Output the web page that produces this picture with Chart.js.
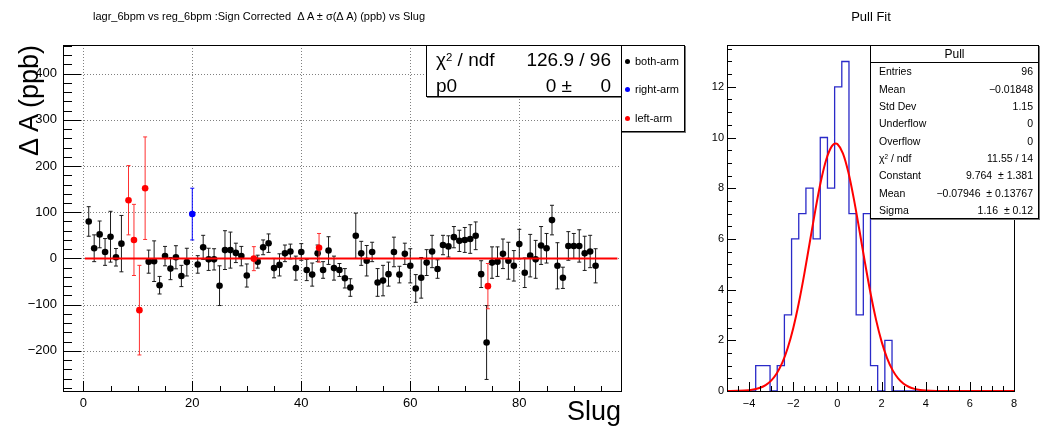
<!DOCTYPE html>
<html><head><meta charset="utf-8">
<script src="https://cdn.jsdelivr.net/npm/chart.js@4.4.1/dist/chart.umd.min.js"></script>
<style>
html,body{margin:0;padding:0;background:#fff;}
#wrap{position:relative;width:1041px;height:431px;overflow:hidden;font-family:"Liberation Sans",Arial,Helvetica,sans-serif;color:#000;}
canvas{position:absolute;top:0;}
.t{position:absolute;white-space:nowrap;line-height:1;}
.box{position:absolute;background:#fff;border:1px solid #000;box-sizing:border-box;box-shadow:1px 1px 0 #777;}
.dot{position:absolute;width:5px;height:5px;border-radius:50%;}
.sup{font-size:0.6em;position:relative;top:-0.45em;}
</style></head>
<body><div id="wrap">
<canvas id="c1" width="700" height="431" style="left:0"></canvas>
<canvas id="c2" width="341" height="431" style="left:700px"></canvas>

<div class="t" style="left:93px;top:11px;font-size:11px">lagr_6bpm vs reg_6bpm :Sign Corrected&nbsp; Δ A ± σ(Δ A) (ppb) vs Slug</div>
<div class="t" style="left:821px;width:100px;text-align:center;top:10px;font-size:13px">Pull Fit</div>
<div class="t" style="left:16px;top:245px;width:200px;text-align:right;font-size:27px;transform-origin:0 0;transform:rotate(-90deg)">Δ A (ppb)</div>
<div class="t" style="right:420px;top:398px;font-size:27px">Slug</div>

<div class="box" style="left:426px;top:45px;width:196px;height:52px">
  <div class="t" style="left:9px;top:4px;font-size:19px">χ<span class="sup">2</span> / ndf</div>
  <div class="t" style="right:10px;top:4px;font-size:19px">126.9 / 96</div>
  <div class="t" style="left:9px;top:30px;font-size:19px">p0</div>
  <div class="t" style="right:49px;top:30px;font-size:19px">0 ±</div>
  <div class="t" style="right:10px;top:30px;font-size:19px">0</div>
</div>

<div class="box" style="left:621px;top:45px;width:64px;height:87px">
  <div class="dot" style="left:2.5px;top:12.5px;background:#000"></div>
  <div class="t" style="left:13px;top:10px;font-size:11px">both-arm</div>
  <div class="dot" style="left:2.5px;top:40.5px;background:#0000ff"></div>
  <div class="t" style="left:13px;top:38px;font-size:11px">right-arm</div>
  <div class="dot" style="left:2.5px;top:69.5px;background:#ff0000"></div>
  <div class="t" style="left:13px;top:67px;font-size:11px">left-arm</div>
</div>

<div class="box" style="left:870px;top:45px;width:169px;height:174px;font-size:10.5px">
  <div class="t" style="left:0;right:0;text-align:center;top:2px;font-size:12px">Pull</div>
  <div style="position:absolute;left:0;right:0;top:16px;border-top:1px solid #000"></div>
  <div class="t" style="left:8px;top:20.4px">Entries</div><div class="t" style="right:5px;top:20.4px">96</div>
  <div class="t" style="left:8px;top:37.7px">Mean</div><div class="t" style="right:5px;top:37.7px">−0.01848</div>
  <div class="t" style="left:8px;top:55px">Std Dev</div><div class="t" style="right:5px;top:55px">1.15</div>
  <div class="t" style="left:8px;top:72.3px">Underflow</div><div class="t" style="right:5px;top:72.3px">0</div>
  <div class="t" style="left:8px;top:89.6px">Overflow</div><div class="t" style="right:5px;top:89.6px">0</div>
  <div class="t" style="left:8px;top:106.9px">χ<span class="sup">2</span> / ndf</div><div class="t" style="right:5px;top:106.9px">11.55 / 14</div>
  <div class="t" style="left:8px;top:124.2px">Constant</div><div class="t" style="right:5px;top:124.2px">9.764 &nbsp;± 1.381</div>
  <div class="t" style="left:8px;top:141.5px">Mean</div><div class="t" style="right:5px;top:141.5px">−0.07946 &nbsp;± 0.13767</div>
  <div class="t" style="left:8px;top:158.8px">Sigma</div><div class="t" style="right:5px;top:158.8px">1.16 &nbsp;± 0.12</div>
</div>
</div>

<script>
// ---------- data: left plot ----------
const bothSlug = [1,2,3,4,5,6,7,12,13,14,15,16,17,18,19,21,22,23,24,25,26,27,28,29,30,32,33,34,35,36,37,38,39,40,41,42,43,44,45,46,47,48,49,50,51,52,53,54,55,56,57,58,59,60,61,62,63,64,65,66,67,68,69,70,71,72,73,74,75,76,77,78,79,80,81,82,83,84,85,86,87,88,89,90,91,92,93,94];
const bothVal  = [80,22,52,14,47,2.5,32,-7,-6,-58,5,-22,2.5,-38,-8,-13,24,-2,-2,-59,18,18,12,5,-37,-7,24,33,-21,-14,11,15,-21,14,-25,-35,11,-25,17,-21,-25,-43,-63,49,11,-5,14,-52,-48,-34,14,-35,10,-16,-65,-42,-9,15,-23,29,26,46,38,40,42,49,-34,-182,-9,-7,10,-5,-16,31,-31,6,-2,28,22,83,-16,-42,27,27,27,11,15,-16];
const bothErr  = [32,29,29,29,55,19,61,25,44,19,21,24,25,23,30,19,26,24,23,43,42,39,21,21,25,14,16,20,21,24,18,16,26,18,23,25,18,18,30,26,14,21,19,49,26,33,21,30,33,26,32,18,23,37,30,44,28,35,20,21,23,23,23,27,31,30,29,80,34,32,32,40,33,32,32,46,41,41,32,32,50,23,31,27,35,37,35,37];
const rightSlug = [20];
const rightVal  = [96];
const rightErr  = [56];
const leftSlug = [8.3,9.3,10.3,11.35,31.3,43.26,74.24];
const leftVal  = [126,40,-112,152,-0.5,23,-60];
const leftErr  = [75,77,97,111,26,31,49];
const fitRange = [0.3,98];
const fitP0 = 0;

// ---------- data: right plot (Pull histogram + gaussian fit) ----------
const pullEdges = [-5,-4.675,-4.35,-4.025,-3.7,-3.375,-3.05,-2.725,-2.4,-2.075,-1.75,-1.425,-1.1,-0.775,-0.45,-0.125,0.2,0.525,0.85,1.175,1.5,1.825,2.15,2.475,2.8,3.125,3.45,3.775,4.1,4.425,4.75,5.075,5.4,5.725,6.05,6.375,6.7,7.025,7.35,7.675,8];
const pullCounts = [0,0,0,0,0,1,1,0,1,3,6,7,8,6,10,8,12,13,7,3,7,1,0,2,0,0,0,0,0,0,0,0,0,0,0,0,0,0,0,0];
const gausX = [-5,-4.5,-4,-3.75,-3.5,-3.25,-3,-2.75,-2.5,-2.25,-2,-1.75,-1.5,-1.25,-1,-0.75,-0.5,-0.25,-0.08,0,0.25,0.5,0.75,1,1.25,1.5,1.75,2,2.25,2.5,2.75,3,3.25,3.5,3.75,4,4.5,5,6,7,8];
const gausY = [0.001,0.007,0.032,0.065,0.126,0.233,0.41,0.69,1.106,1.697,2.479,3.461,4.611,5.868,7.127,8.262,9.143,9.659,9.764,9.741,9.378,8.619,7.561,6.333,5.063,3.864,2.815,1.958,1.301,0.824,0.498,0.288,0.159,0.084,0.042,0.02,0.004,0.001,0,0,0];

const FONT = '"Liberation Sans", Arial, Helvetica, sans-serif';
Chart.defaults.font.family = FONT;

function pts(xs, vs) { return xs.map((x, i) => ({x: x, y: vs[i]})); }
function errPts(xs, vs, es) {
  const d = [];
  xs.forEach((x, i) => { d.push({x: x, y: vs[i] - es[i]}, {x: x, y: vs[i] + es[i]}, {x: x, y: null}); });
  return d;
}
const minus = v => String(v).replace('-', '\u2212');

const rootAxes = {
  id: 'rootAxes',
  beforeDatasetsDraw(chart, args, o) {
    if (!o.grid) return;
    const {ctx, chartArea: a} = chart; const xs = chart.scales.x, ys = chart.scales.y;
    ctx.save();
    ctx.strokeStyle = '#808080'; ctx.lineWidth = 1; ctx.setLineDash([1, 2]);
    ctx.beginPath();
    xs.ticks.forEach(t => { const p = Math.round(xs.getPixelForValue(t.value)) + 0.5; ctx.moveTo(p, a.top); ctx.lineTo(p, a.bottom); });
    ys.ticks.forEach(t => { const p = Math.round(ys.getPixelForValue(t.value)) + 0.5; ctx.moveTo(a.left, p); ctx.lineTo(a.right, p); });
    ctx.stroke();
    ctx.restore();
  },
  afterDatasetsDraw(chart, args, o) {
    const {ctx, chartArea: a} = chart; const xs = chart.scales.x, ys = chart.scales.y;
    ctx.save();
    ctx.strokeStyle = '#000'; ctx.lineWidth = 1; ctx.setLineDash([]);
    ctx.beginPath();
    const x0 = Math.ceil(xs.min / o.xMinor - 1e-9);
    for (let k = x0; k * o.xMinor <= xs.max + 1e-9; k++) {
      const p = Math.round(xs.getPixelForValue(k * o.xMinor)) + 0.5;
      ctx.moveTo(p, a.bottom); ctx.lineTo(p, a.bottom - o.xMinorLen);
    }
    xs.ticks.forEach(t => { const p = Math.round(xs.getPixelForValue(t.value)) + 0.5; ctx.moveTo(p, a.bottom); ctx.lineTo(p, a.bottom - o.xMajorLen); });
    const y0 = Math.ceil(ys.min / o.yMinor - 1e-9);
    for (let k = y0; k * o.yMinor <= ys.max + 1e-9; k++) {
      const p = Math.round(ys.getPixelForValue(k * o.yMinor)) + 0.5;
      ctx.moveTo(a.left, p); ctx.lineTo(a.left + o.yMinorLen, p);
    }
    ys.ticks.forEach(t => { const p = Math.round(ys.getPixelForValue(t.value)) + 0.5; ctx.moveTo(a.left, p); ctx.lineTo(a.left + o.yMajorLen, p); });
    ctx.stroke();
    ctx.strokeRect(Math.round(a.left) + 0.5, Math.round(a.top) + 0.5, Math.round(a.right - a.left), Math.round(a.bottom - a.top));
    ctx.restore();
  }
};

function errSet(xs, vs, es, color, order) {
  return { data: errPts(xs, vs, es), showLine: true, spanGaps: false, borderColor: color, borderWidth: 1,
    pointStyle: 'line', pointRadius: 2, pointBorderColor: color, pointBorderWidth: 1, pointHoverRadius: 2, order: order };
}
function markSet(xs, vs, color, order) {
  return { data: pts(xs, vs), showLine: false, pointStyle: 'circle', pointRadius: 3.3, pointHoverRadius: 3.3,
    pointBackgroundColor: color, pointBorderColor: color, pointBorderWidth: 0, order: order };
}

new Chart(document.getElementById('c1'), {
  type: 'scatter',
  data: { datasets: [
    errSet(bothSlug, bothVal, bothErr, '#1a1a1a', 7),
    markSet(bothSlug, bothVal, '#000000', 6),
    errSet(rightSlug, rightVal, rightErr, '#0000ff', 5),
    markSet(rightSlug, rightVal, '#0000ff', 4),
    errSet(leftSlug, leftVal, leftErr, '#ff3030', 3),
    markSet(leftSlug, leftVal, '#ff0000', 2),
    { data: fitRange.map(x => ({x: x, y: fitP0})), showLine: true, borderColor: '#ff0000', borderWidth: 2, pointRadius: 0, order: 1 }
  ]},
  options: {
    responsive: false, animation: false, events: [],
    layout: { padding: { left: 0, right: 79, top: 45, bottom: 0 } },
    plugins: { legend: {display: false}, tooltip: {enabled: false}, title: {display: false},
      rootAxes: { grid: true, xMinor: 5, xMinorLen: 5, xMajorLen: 10, yMinor: 20, yMinorLen: 9, yMajorLen: 18 } },
    scales: {
      x: { type: 'linear', min: -3.72, max: 98.66, afterFit: s => { s.height = 40; },
        grid: {display: false, drawTicks: false}, border: {display: false},
        ticks: { stepSize: 20, includeBounds: false, autoSkip: false, maxRotation: 0, padding: 5, color: '#000', font: {size: 13}, callback: minus } },
      y: { type: 'linear', min: -287, max: 462, afterFit: s => { s.width = 63; },
        grid: {display: false, drawTicks: false}, border: {display: false},
        ticks: { stepSize: 100, includeBounds: false, autoSkip: false, padding: 6, color: '#000', font: {size: 13}, callback: minus } }
    }
  },
  plugins: [rootAxes]
});

const histPts = pullCounts.map((c, i) => ({x: pullEdges[i], y: c}));
histPts.push({x: pullEdges[pullEdges.length - 1], y: pullCounts[pullCounts.length - 1]});

new Chart(document.getElementById('c2'), {
  type: 'scatter',
  data: { datasets: [
    { data: histPts, showLine: true, stepped: 'after', borderColor: '#2a2ac8', borderWidth: 1.3, pointRadius: 0, order: 2 },
    { data: pts(gausX, gausY), showLine: true, cubicInterpolationMode: 'monotone', borderColor: '#ff0000', borderWidth: 2, pointRadius: 0, order: 1 }
  ]},
  options: {
    responsive: false, animation: false, events: [],
    layout: { padding: { left: 0, right: 27, top: 45, bottom: 0 } },
    plugins: { legend: {display: false}, tooltip: {enabled: false}, title: {display: false},
      rootAxes: { grid: false, xMinor: 0.5, xMinorLen: 5, xMajorLen: 9, yMinor: 0.5, yMinorLen: 5, yMajorLen: 9 } },
    scales: {
      x: { type: 'linear', min: -5, max: 8, afterFit: s => { s.height = 40; },
        grid: {display: false, drawTicks: false}, border: {display: false},
        ticks: { stepSize: 2, includeBounds: false, autoSkip: false, maxRotation: 0, padding: 6, color: '#000', font: {size: 11}, callback: minus } },
      y: { type: 'linear', min: 0, max: 13.65, afterFit: s => { s.width = 27; },
        grid: {display: false, drawTicks: false}, border: {display: false},
        ticks: { stepSize: 2, includeBounds: false, autoSkip: false, padding: 3, color: '#000', font: {size: 11}, callback: minus } }
    }
  },
  plugins: [rootAxes]
});
</script>
</body></html>
